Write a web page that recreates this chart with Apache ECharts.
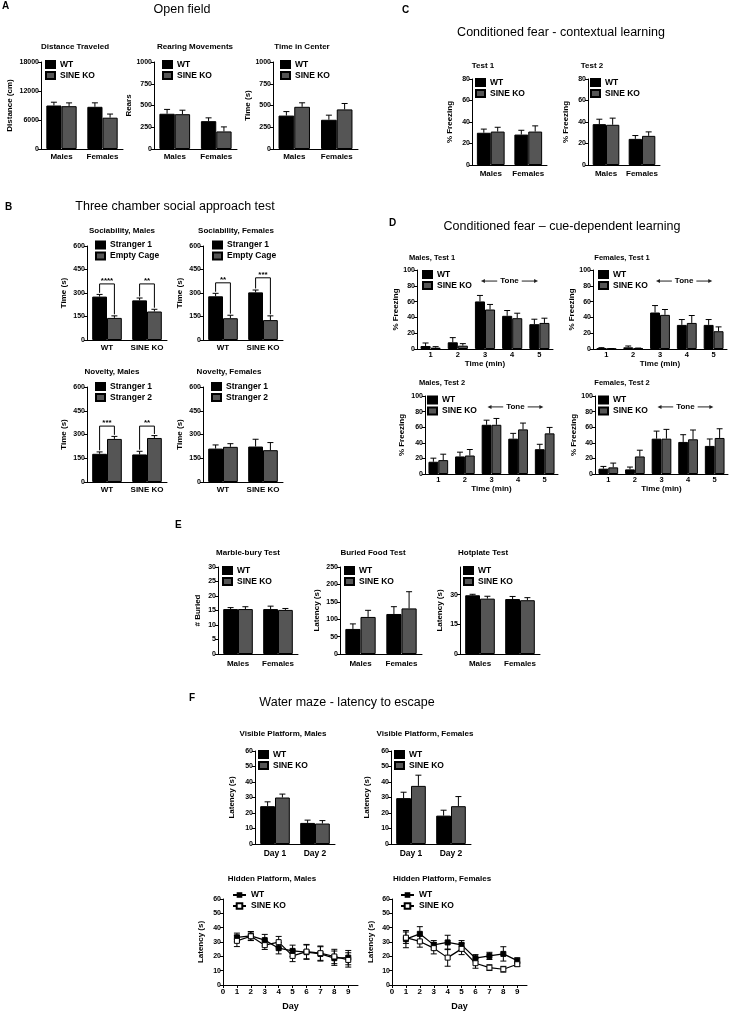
<!DOCTYPE html>
<html>
<head>
<meta charset="utf-8">
<title>SINE KO behaviour panels</title>
<script src="https://cdn.jsdelivr.net/npm/echarts@6/dist/echarts.min.js"></script>
<style>html,body{margin:0;padding:0;background:#fff}#main{width:730px;height:1013px}</style>
</head>
<body>
<div id="main"></div>
<script>
var FONT = '"Liberation Sans", Arial, sans-serif';
var GAP = 0.26;   // barCategoryGap as fraction
var BLACK = '#000', GREY = '#555';

// ---------- categories ----------
var sexCats = ['Males', 'Females'];
var genoCats = ['WT', 'SINE KO'];
var minCats = ['1', '2', '3', '4', '5'];
var dayCats = ['Day 1', 'Day 2'];
var hidDays = [1, 2, 3, 4, 5, 6, 7, 8, 9];
var hidDayTicks = [0, 1, 2, 3, 4, 5, 6, 7, 8, 9];
var hotTicks = [0, 15, 30];

// ---------- A: open field ----------
var distWT = [9000, 8730], distWTe = [680, 820];
var distKO = [8860, 6480], distKOe = [680, 750];
var rearWT = [405, 320], rearWTe = [50, 38];
var rearKO = [400, 202], rearKOe = [46, 52];
var centWT = [384, 336], centWTe = [46, 53];
var centKO = [485, 455], centKOe = [46, 68];

// ---------- B: three chamber ----------
var socMS1 = [277, 253], socMS1e = [14, 15];
var socMEmpty = [141, 182], socMEmptye = [13, 14];
var socFS1 = [279, 304], socFS1e = [19, 15];
var socFEmpty = [139, 127], socFEmptye = [19, 27];
var novMS1 = [178, 174], novMS1e = [12, 20];
var novMS2 = [272, 278], novMS2e = [16, 15];
var novFS1 = [211, 224], novFS1e = [23, 46];
var novFS2 = [222, 201], novFS2e = [20, 48];
// significance brackets: [category, level, left leg end, right leg end]
var sigSocM = [[0, 358, 301, 164], [1, 358, 278, 206]], sigSocMTxt = ['****', '**'];
var sigSocF = [[0, 365, 308, 168], [1, 397, 329, 164]], sigSocFTxt = ['**', '***'];
var sigNovM = [[0, 353, 200, 298], [1, 353, 204, 303]], sigNovMTxt = ['***', '**'];

// ---------- C: contextual fear ----------
var ctx1WT = [30, 28.3], ctx1WTe = [3.4, 4];
var ctx1KO = [31.1, 31.1], ctx1KOe = [4, 5.3];
var ctx2WT = [38, 24.3], ctx2WTe = [4.6, 3.1];
var ctx2KO = [37.4, 27.1], ctx2KOe = [6.2, 3.7];

// ---------- D: cue-dependent fear ----------
var cueM1WT = [3.8, 8.5, 60.2, 42, 31.4], cueM1WTe = [3.8, 5.9, 7.6, 6.7, 6.3];
var cueM1KO = [1.7, 4.2, 50, 39, 33], cueM1KOe = [1.3, 2.6, 6.4, 6.3, 6];
var cueF1WT = [0.8, 2.1, 46.2, 30.5, 30.5], cueF1WTe = [0.9, 1.7, 8.8, 6.8, 6.8];
var cueF1KO = [0.3, 0.8, 43.2, 33, 22.5], cueF1KOe = [0.3, 0.4, 6.8, 9.4, 5.5];
var cueM2WT = [15.7, 22.5, 63.1, 45.3, 31.8], cueM2WTe = [4.6, 5.5, 5.9, 6.8, 6.3];
var cueM2KO = [17.8, 23.7, 63.1, 57.2, 52.1], cueM2KOe = [7.6, 7.7, 8.1, 8.1, 7.6];
var cueF2WT = [6.8, 5.9, 45.3, 41.1, 36], cueF2WTe = [2.9, 3, 9.7, 9.3, 8.9];
var cueF2KO = [8.5, 22.5, 45.3, 44.5, 46.2], cueF2KOe = [5.5, 8, 11.9, 11.9, 11.8];
// tone arrow: [ref category, level, start offset, end offset] (offsets in bands)
var toneSpan = [[0, 86, 1.85, 3.95]];

// ---------- E ----------
var marbWT = [15.5, 15.5], marbWTe = [0.5, 1.0];
var marbKO = [15.5, 15.2], marbKOe = [0.8, 0.5];
var foodWT = [72, 115], foodWTe = [14.5, 21];
var foodKO = [106.5, 131], foodKOe = [19, 48];
var hotWT = [29.7, 27.8], hotWTe = [0.5, 1.3];
var hotKO = [28, 27.2], hotKOe = [1.2, 1.3];

// ---------- F: water maze ----------
var visMWT = [24.4, 13.6], visMWTe = [2.8, 1.8];
var visMKO = [30, 13.2], visMKOe = [2.2, 1.9];
var visFWT = [29.6, 18.3], visFWTe = [3.8, 3.5];
var visFKO = [37.5, 24.4], visFKOe = [6.9, 6.2];
var hidMWT = [33.2, 34.3, 31.3, 25.7, 23.8, 22.9, 21.7, 18.7, 19.1], hidMWTe = [3, 3, 4, 4, 4, 5, 5, 5, 5];
var hidMKO = [30.8, 34, 27.8, 29.9, 20.3, 23.3, 22.2, 19.9, 17.5], hidMKOe = [4, 3, 3, 4, 4, 5, 5, 5, 5];
var hidFWT = [32, 35.7, 28, 29.7, 28, 18.7, 20.3, 21.7, 17], hidFWTe = [6, 5, 3, 5, 3, 2.5, 2.5, 5, 2];
var hidFKO = [33, 30.4, 25.7, 19.1, 25.2, 15.2, 12.1, 11, 14.5], hidFKOe = [4, 4, 4, 6, 4, 3.5, 2, 2, 1.5];

var option = {
  animation: false,
  backgroundColor: '#fff',
  textStyle: {fontFamily: FONT},
  grid: [], xAxis: [], yAxis: [], series: [], legend: [], graphic: []
};

function txt(x, y, text, size, weight, align) {
  option.graphic.push({
    type: 'text', x: x, y: y, silent: true,
    style: {text: text, fontSize: size, fontWeight: weight || 'bold', fontFamily: FONT, fill: '#000',
      align: align || 'center', verticalAlign: 'middle', textAlign: align || 'center', textVerticalAlign: 'middle'}
  });
}

function valueAxis(gi, p) {
  var ax = {
    type: 'value', gridIndex: gi, min: 0, max: p.max, interval: p.step,
    name: p.yName, nameLocation: 'middle', nameGap: p.yGap,
    nameTextStyle: {fontSize: 8, fontWeight: 'bold', color: '#000', fontFamily: FONT},
    axisLine: {show: true, lineStyle: {color: '#000', width: 1}},
    axisTick: {show: true, length: 3, lineStyle: {color: '#000'}},
    axisLabel: {fontSize: 7, fontWeight: 'bold', color: '#000', margin: 2, fontFamily: FONT,
      formatter: function (v) { return String(v); }},
    splitLine: {show: false}
  };
  if (p.ticks) {
    ax.axisLabel.customValues = p.ticks;
    ax.axisTick.customValues = p.ticks;
  }
  return ax;
}

function legendAt(pos, names, line) {
  var lg = {
    left: pos[0], top: pos[1], orient: 'vertical', itemGap: 1, padding: 0,
    itemWidth: line ? 13 : 9, itemHeight: 7, selectedMode: false, data: names,
    textStyle: {fontSize: 8.5, fontWeight: 'bold', color: '#000', fontFamily: FONT, lineHeight: 10}
  };
  if (line) {
    lg.formatter = function (n) { return n.replace(' line', ''); };
  } else {
    lg.icon = 'rect';
  }
  return lg;
}

function barErr(params, api) {
  var band = api.size([1, 0])[0];
  var bw = band * (1 - GAP) / 2;
  var base = api.coord([api.value(0), api.value(1)]);
  var top = api.coord([api.value(0), api.value(1) + api.value(2)]);
  var x = base[0] + (api.value(3) - 0.5) * bw;
  var cap = Math.min(bw * 0.3, 3);
  return {type: 'group', children: [
    {type: 'line', shape: {x1: x, y1: base[1], x2: x, y2: top[1]}, style: {stroke: '#000', lineWidth: 1}},
    {type: 'line', shape: {x1: x - cap, y1: top[1], x2: x + cap, y2: top[1]}, style: {stroke: '#000', lineWidth: 1}}
  ]};
}

function bracket(labels) {
  return function (params, api) {
    var band = api.size([1, 0])[0], bw = band * (1 - GAP) / 2;
    var c = api.coord([api.value(0), api.value(1)]);
    var l = api.coord([api.value(0), api.value(2)]);
    var r = api.coord([api.value(0), api.value(3)]);
    var xl = c[0] - bw / 2, xr = c[0] + bw / 2;
    return {type: 'group', children: [
      {type: 'polyline', shape: {points: [[xl, l[1]], [xl, c[1]], [xr, c[1]], [xr, r[1]]]},
        style: {stroke: '#000', fill: null, lineWidth: 1}},
      {type: 'text', x: c[0], y: c[1] + 1,
        style: {text: labels[params.dataIndex], fontSize: 8, fontWeight: 'bold', fontFamily: FONT, fill: '#000',
          align: 'center', verticalAlign: 'bottom'}}
    ]};
  };
}

function toneArrow(params, api) {
  var band = api.size([1, 0])[0];
  var c0 = api.coord([api.value(0), api.value(1)]);
  var x1 = c0[0] + api.value(2) * band, x2 = c0[0] + api.value(3) * band, y = c0[1];
  return {type: 'group', children: [
    {type: 'line', shape: {x1: x1 + 3, y1: y, x2: x2 - 3, y2: y}, style: {stroke: '#222', lineWidth: 1}},
    {type: 'polygon', shape: {points: [[x1, y], [x1 + 4, y - 2], [x1 + 4, y + 2]]}, style: {fill: '#222'}},
    {type: 'polygon', shape: {points: [[x2, y], [x2 - 4, y - 2], [x2 - 4, y + 2]]}, style: {fill: '#222'}},
    {type: 'text', x: (x1 + x2) / 2, y: y,
      style: {text: 'Tone', fontSize: 8, fontWeight: 'bold', fontFamily: FONT, fill: '#000',
        align: 'center', verticalAlign: 'middle', backgroundColor: '#fff', padding: [0, 3]}}
  ]};
}

function lineErr(params, api) {
  var lo = api.coord([api.value(0), api.value(1) - api.value(2)]);
  var hi = api.coord([api.value(0), api.value(1) + api.value(2)]);
  var x = lo[0], cap = 3;
  return {type: 'group', children: [
    {type: 'line', shape: {x1: x, y1: lo[1], x2: x, y2: hi[1]}, style: {stroke: '#000', lineWidth: 1}},
    {type: 'line', shape: {x1: x - cap, y1: lo[1], x2: x + cap, y2: lo[1]}, style: {stroke: '#000', lineWidth: 1}},
    {type: 'line', shape: {x1: x - cap, y1: hi[1], x2: x + cap, y2: hi[1]}, style: {stroke: '#000', lineWidth: 1}}
  ]};
}

function addGrid(box) {
  var gi = option.grid.length;
  option.grid.push({left: box[0], top: box[1], width: box[2], height: box[3], containLabel: false, outerBoundsMode: 'none'});
  return gi;
}

function barPanel(p) {
  var gi = addGrid(p.box);
  option.xAxis.push({
    type: 'category', gridIndex: gi, data: p.cats,
    name: p.xName || '', nameLocation: 'middle', nameGap: p.xGap || 12,
    nameTextStyle: {fontSize: 8, fontWeight: 'bold', color: '#000', fontFamily: FONT},
    axisLine: {lineStyle: {color: '#000', width: 1}},
    axisTick: {show: false},
    axisLabel: {fontSize: p.catSize || 8, fontWeight: 'bold', color: '#000', margin: p.catMargin || 4, interval: 0, fontFamily: FONT}
  });
  option.yAxis.push(valueAxis(gi, p));
  var errData = [];
  p.sets.forEach(function (s, k) {
    option.series.push({
      type: 'bar', name: s[0], xAxisIndex: gi, yAxisIndex: gi, data: s[1],
      barGap: '0%', barCategoryGap: (GAP * 100) + '%',
      itemStyle: {color: s[3], borderColor: '#000', borderWidth: 1}
    });
    s[1].forEach(function (v, i) { errData.push([i, v, s[2][i], k]); });
  });
  option.series.push({type: 'custom', xAxisIndex: gi, yAxisIndex: gi, renderItem: barErr, data: errData, z: 3, silent: true});
  if (p.sig) {
    option.series.push({type: 'custom', xAxisIndex: gi, yAxisIndex: gi, renderItem: bracket(p.sigTxt), data: p.sig, z: 3, silent: true});
  }
  if (p.tone) {
    option.series.push({type: 'custom', xAxisIndex: gi, yAxisIndex: gi, renderItem: toneArrow, data: p.tone, z: 3, silent: true});
  }
  option.legend.push(legendAt(p.leg, p.sets.map(function (s) { return s[0]; })));
}

function linePanel(p) {
  var gi = addGrid(p.box);
  option.xAxis.push({
    type: 'value', gridIndex: gi, min: 0, max: 9.7, interval: 1,
    name: 'Day', nameLocation: 'middle', nameGap: 17,
    nameTextStyle: {fontSize: 9, fontWeight: 'bold', color: '#000', fontFamily: FONT},
    axisLine: {lineStyle: {color: '#000', width: 1}},
    axisTick: {show: true, length: 3, lineStyle: {color: '#000'}, customValues: hidDayTicks},
    axisLabel: {fontSize: 8, fontWeight: 'bold', color: '#000', margin: 3, fontFamily: FONT, customValues: hidDayTicks},
    splitLine: {show: false}
  });
  option.yAxis.push(valueAxis(gi, p));
  p.sets.forEach(function (s) {
    var pts = hidDays.map(function (d, i) { return [d, s[1][i]]; });
    var errs = hidDays.map(function (d, i) { return [d, s[1][i], s[2][i]]; });
    option.series.push({type: 'custom', xAxisIndex: gi, yAxisIndex: gi, renderItem: lineErr, data: errs, z: 2, silent: true});
    option.series.push({
      type: 'line', name: s[0] + ' line', xAxisIndex: gi, yAxisIndex: gi, data: pts, z: 4,
      symbol: 'rect', symbolSize: 5, lineStyle: {color: '#000', width: 1.2},
      itemStyle: s[3] ? {color: '#000', borderColor: '#000'} : {color: '#fff', borderColor: '#000', borderWidth: 1}
    });
  });
  option.legend.push(legendAt(p.leg, p.sets.map(function (s) { return s[0] + ' line'; }), true));
}

// ---------- headings ----------
txt(2, 6, 'A', 10, 'bold', 'left');
txt(182, 10, 'Open field', 12.5, 'normal');
txt(75, 47, 'Distance Traveled', 8);
txt(195, 47, 'Rearing Movements', 8);
txt(302, 47, 'Time in Center', 8);

txt(5, 207, 'B', 10, 'bold', 'left');
txt(175, 207, 'Three chamber social approach test', 12.5, 'normal');
txt(122, 231, 'Sociability, Males', 8);
txt(236, 231, 'Sociability, Females', 8);
txt(112, 372, 'Novelty, Males', 8);
txt(229, 372, 'Novelty, Females', 8);

txt(402, 10, 'C', 10, 'bold', 'left');
txt(561, 33, 'Conditioned fear - contextual learning', 12.5, 'normal');
txt(483, 66, 'Test 1', 8);
txt(592, 66, 'Test 2', 8);

txt(389, 223, 'D', 10, 'bold', 'left');
txt(562, 227, 'Conditioned fear \u2013 cue-dependent learning', 12.5, 'normal');
txt(432, 258, 'Males, Test 1', 7.5);
txt(622, 258, 'Females, Test 1', 7.5);
txt(442, 383, 'Males, Test 2', 7.5);
txt(622, 383, 'Females, Test 2', 7.5);

txt(175, 525, 'E', 10, 'bold', 'left');
txt(248, 553, 'Marble-bury Test', 8);
txt(373, 553, 'Buried Food Test', 8);
txt(483, 553, 'Hotplate Test', 8);

txt(189, 698, 'F', 10, 'bold', 'left');
txt(347, 703, 'Water maze - latency to escape', 12.5, 'normal');
txt(283, 734, 'Visible Platform, Males', 8);
txt(425, 734, 'Visible Platform, Females', 8);
txt(272, 879, 'Hidden Platform, Males', 8);
txt(442, 879, 'Hidden Platform, Females', 8);

// ---------- A ----------
barPanel({box: [41, 62, 82, 87], cats: sexCats, max: 18000, step: 6000, yName: 'Distance (cm)', yGap: 27, leg: [45, 59.5],
  sets: [['WT', distWT, distWTe, BLACK], ['SINE KO', distKO, distKOe, GREY]]});
barPanel({box: [154, 62, 83, 87], cats: sexCats, max: 1000, step: 250, yName: 'Rears', yGap: 18, leg: [162, 59.5],
  sets: [['WT', rearWT, rearWTe, BLACK], ['SINE KO', rearKO, rearKOe, GREY]]});
barPanel({box: [273, 62, 85, 87], cats: sexCats, max: 1000, step: 250, yName: 'Time (s)', yGap: 20, leg: [280, 59.5],
  sets: [['WT', centWT, centWTe, BLACK], ['SINE KO', centKO, centKOe, GREY]]});

// ---------- B ----------
barPanel({box: [87, 246, 80, 94], cats: genoCats, max: 600, step: 150, yName: 'Time (s)', yGap: 19, leg: [95, 240],
  sets: [['Stranger 1', socMS1, socMS1e, BLACK], ['Empty Cage', socMEmpty, socMEmptye, GREY]], sig: sigSocM, sigTxt: sigSocMTxt});
barPanel({box: [203, 246, 80, 94], cats: genoCats, max: 600, step: 150, yName: 'Time (s)', yGap: 19, leg: [212, 240],
  sets: [['Stranger 1', socFS1, socFS1e, BLACK], ['Empty Cage', socFEmpty, socFEmptye, GREY]], sig: sigSocF, sigTxt: sigSocFTxt});
barPanel({box: [87, 387, 80, 95], cats: genoCats, max: 600, step: 150, yName: 'Time (s)', yGap: 19, leg: [95, 381.5],
  sets: [['Stranger 1', novMS1, novMS1e, BLACK], ['Stranger 2', novMS2, novMS2e, GREY]], sig: sigNovM, sigTxt: sigNovMTxt});
barPanel({box: [203, 387, 80, 95], cats: genoCats, max: 600, step: 150, yName: 'Time (s)', yGap: 19, leg: [211, 381.5],
  sets: [['Stranger 1', novFS1, novFS1e, BLACK], ['Stranger 2', novFS2, novFS2e, GREY]]});

// ---------- C ----------
barPanel({box: [472, 79, 75, 86], cats: sexCats, max: 80, step: 20, yName: '% Freezing', yGap: 18, leg: [475, 77.5], catMargin: 5,
  sets: [['WT', ctx1WT, ctx1WTe, BLACK], ['SINE KO', ctx1KO, ctx1KOe, GREY]]});
barPanel({box: [588, 79, 72, 86], cats: sexCats, max: 80, step: 20, yName: '% Freezing', yGap: 18, leg: [590, 77.5], catMargin: 5,
  sets: [['WT', ctx2WT, ctx2WTe, BLACK], ['SINE KO', ctx2KO, ctx2KOe, GREY]]});

// ---------- D ----------
barPanel({box: [417, 270, 136, 79], cats: minCats, max: 100, step: 20, yName: '% Freezing', yGap: 16, leg: [422, 269.5],
  xName: 'Time (min)', xGap: 11, catMargin: 2, catSize: 7.5, tone: toneSpan,
  sets: [['WT', cueM1WT, cueM1WTe, BLACK], ['SINE KO', cueM1KO, cueM1KOe, GREY]]});
barPanel({box: [593, 270, 134, 79], cats: minCats, max: 100, step: 20, yName: '% Freezing', yGap: 16, leg: [598, 269.5],
  xName: 'Time (min)', xGap: 11, catMargin: 2, catSize: 7.5, tone: toneSpan,
  sets: [['WT', cueF1WT, cueF1WTe, BLACK], ['SINE KO', cueF1KO, cueF1KOe, GREY]]});
barPanel({box: [425, 396, 133, 78], cats: minCats, max: 100, step: 20, yName: '% Freezing', yGap: 19, leg: [427, 395],
  xName: 'Time (min)', xGap: 11, catMargin: 2, catSize: 7.5, tone: toneSpan,
  sets: [['WT', cueM2WT, cueM2WTe, BLACK], ['SINE KO', cueM2KO, cueM2KOe, GREY]]});
barPanel({box: [595, 396, 133, 78], cats: minCats, max: 100, step: 20, yName: '% Freezing', yGap: 17, leg: [598, 395],
  xName: 'Time (min)', xGap: 11, catMargin: 2, catSize: 7.5, tone: toneSpan,
  sets: [['WT', cueF2WT, cueF2WTe, BLACK], ['SINE KO', cueF2KO, cueF2KOe, GREY]]});

// ---------- E ----------
barPanel({box: [218, 567, 80, 87], cats: sexCats, max: 30, step: 5, yName: '# Buried', yGap: 16, leg: [222, 565.5], catMargin: 6,
  sets: [['WT', marbWT, marbWTe, BLACK], ['SINE KO', marbKO, marbKOe, GREY]]});
barPanel({box: [340, 567, 82, 87], cats: sexCats, max: 250, step: 50, yName: 'Latency (s)', yGap: 19, leg: [344, 565.5], catMargin: 6,
  sets: [['WT', foodWT, foodWTe, BLACK], ['SINE KO', foodKO, foodKOe, GREY]]});
barPanel({box: [460, 567, 80, 87], cats: sexCats, max: 44, step: 15, ticks: hotTicks, yName: 'Latency (s)', yGap: 16, leg: [463, 565.5], catMargin: 6,
  sets: [['WT', hotWT, hotWTe, BLACK], ['SINE KO', hotKO, hotKOe, GREY]]});

// ---------- F ----------
barPanel({box: [255, 751, 80, 93], cats: dayCats, max: 60, step: 10, yName: 'Latency (s)', yGap: 19, leg: [258, 749.5], catMargin: 5, catSize: 8.5,
  sets: [['WT', visMWT, visMWTe, BLACK], ['SINE KO', visMKO, visMKOe, GREY]]});
barPanel({box: [391, 751, 80, 93], cats: dayCats, max: 60, step: 10, yName: 'Latency (s)', yGap: 20, leg: [394, 749.5], catMargin: 5, catSize: 8.5,
  sets: [['WT', visFWT, visFWTe, BLACK], ['SINE KO', visFKO, visFKOe, GREY]]});
linePanel({box: [223, 899, 135, 86], max: 60, step: 10, yName: 'Latency (s)', yGap: 18, leg: [232, 890],
  sets: [['WT', hidMWT, hidMWTe, true], ['SINE KO', hidMKO, hidMKOe, false]]});
linePanel({box: [392, 899, 135, 86], max: 60, step: 10, yName: 'Latency (s)', yGap: 17, leg: [400, 890],
  sets: [['WT', hidFWT, hidFWTe, true], ['SINE KO', hidFKO, hidFKOe, false]]});

var myChart = echarts.init(document.getElementById('main'), null, {renderer: 'canvas'});
myChart.setOption(option);
</script>
</body>
</html>
